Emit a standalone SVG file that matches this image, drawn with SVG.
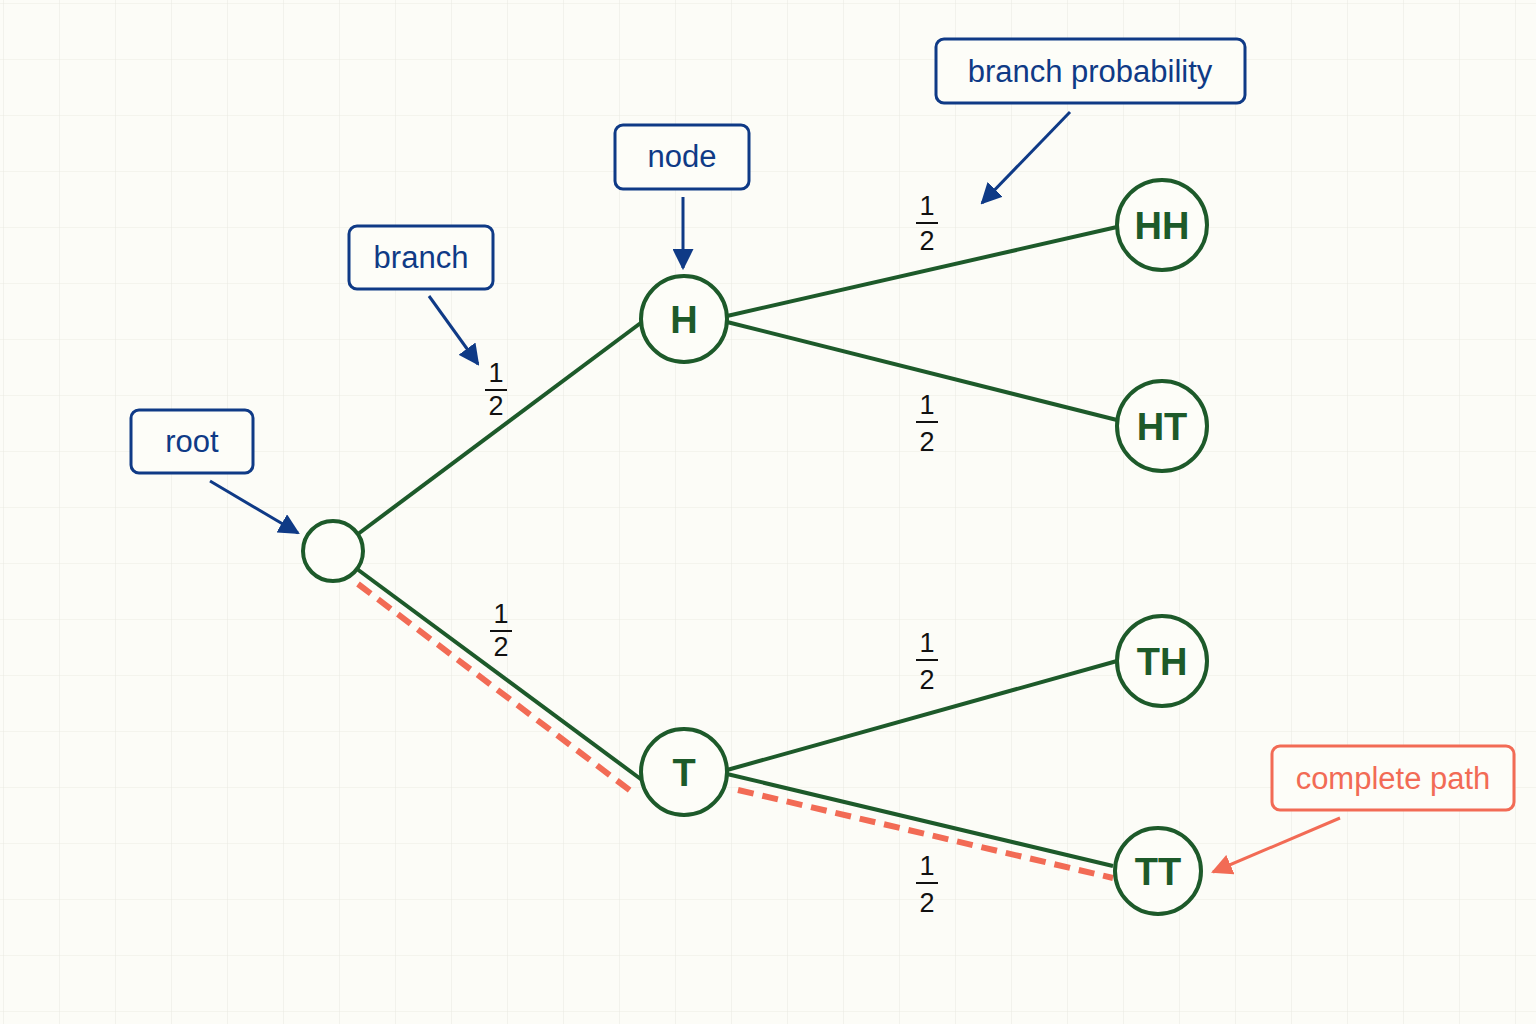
<svg xmlns="http://www.w3.org/2000/svg" width="1536" height="1024" viewBox="0 0 1536 1024">
<defs>
<pattern id="grid" width="56" height="56" patternUnits="userSpaceOnUse" x="4" y="4"><path d="M56 0V56H0" fill="none" stroke="#ecece4" stroke-width="1.2"/></pattern>
<marker id="ab" viewBox="0 0 10 10" refX="9" refY="5" markerWidth="7" markerHeight="7" orient="auto"><path d="M0 0L10 5L0 10z" fill="#0f3a86"/></marker>
<marker id="ar" viewBox="0 0 10 10" refX="9" refY="5" markerWidth="7" markerHeight="7" orient="auto"><path d="M0 0L10 5L0 10z" fill="#f26b55"/></marker>
</defs>
<style>
.n{fill:#fdfdf8;stroke:#1d5a2a;stroke-width:4}
.nt{font-family:"Liberation Sans",Arial,sans-serif;font-weight:bold;font-size:38px;fill:#1d5a2a;text-anchor:middle}
.e{stroke:#1d5a2a;stroke-width:4;fill:none}
.lb{fill:#fdfdf8;stroke:#0f3a86;stroke-width:3}
.lt{font-family:"Liberation Sans",Arial,sans-serif;font-size:31px;fill:#0f3a86;text-anchor:middle}
.a{stroke:#0f3a86;stroke-width:3;marker-end:url(#ab)}
.f{font-family:"Liberation Sans",Arial,sans-serif;font-size:27px;fill:#111;text-anchor:middle}
</style>
<rect width="1536" height="1024" fill="#fcfcf7"/>
<rect width="1536" height="1024" fill="url(#grid)"/>
<g id="connectors">
<path class="e" d="M358 534L642 322"/>
<path class="e" d="M357 569L642 780"/>
<path class="e" d="M727 316L1117 227"/>
<path class="e" d="M727 322L1117 420"/>
<path class="e" d="M727 770L1117 661"/>
<path class="e" d="M727 774L1113 866"/>
<path d="M358 584L636 795M738 790L1113 878" stroke="#f26b55" stroke-width="6" stroke-dasharray="16 9" fill="none"/>
<path class="a" d="M210 481L298 533"/>
<path class="a" d="M429 296L478 364"/>
<path class="a" d="M683 197L683 268"/>
<path class="a" d="M1070 112L982 203"/>
<path d="M1340 818L1213 872" stroke="#f26b55" stroke-width="3" marker-end="url(#ar)"/>
</g>
<g id="fractions">
<g><text class="f" x="496" y="382">1</text><path d="M485 390H507" stroke="#111" stroke-width="2"/><text class="f" x="496" y="415">2</text></g>
<g><text class="f" x="501" y="623">1</text><path d="M490 631H512" stroke="#111" stroke-width="2"/><text class="f" x="501" y="656">2</text></g>
<g><text class="f" x="927" y="215">1</text><path d="M916 223H938" stroke="#111" stroke-width="2"/><text class="f" x="927" y="250">2</text></g>
<g><text class="f" x="927" y="414">1</text><path d="M916 422H938" stroke="#111" stroke-width="2"/><text class="f" x="927" y="451">2</text></g>
<g><text class="f" x="927" y="652">1</text><path d="M916 660H938" stroke="#111" stroke-width="2"/><text class="f" x="927" y="689">2</text></g>
<g><text class="f" x="927" y="875">1</text><path d="M916 883H938" stroke="#111" stroke-width="2"/><text class="f" x="927" y="912">2</text></g>
</g>
<g id="root"><circle class="n" cx="333" cy="551" r="30"/></g>
<g id="H"><circle class="n" cx="684" cy="319" r="43"/><text class="nt" x="684" y="333">H</text></g>
<g id="T"><circle class="n" cx="684" cy="772" r="43"/><text class="nt" x="684" y="786">T</text></g>
<g id="HH"><circle class="n" cx="1162" cy="225" r="45"/><text class="nt" x="1162" y="239">HH</text></g>
<g id="HT"><circle class="n" cx="1162" cy="426" r="45"/><text class="nt" x="1162" y="440">HT</text></g>
<g id="TH"><circle class="n" cx="1162" cy="661" r="45"/><text class="nt" x="1162" y="675">TH</text></g>
<g id="TT"><circle class="n" cx="1158" cy="871" r="43"/><text class="nt" x="1158" y="885">TT</text></g>
<g id="lbl-root"><rect class="lb" x="131" y="410" width="122" height="63" rx="8"/><text class="lt" x="192" y="452">root</text></g>
<g id="lbl-branch"><rect class="lb" x="349" y="226" width="144" height="63" rx="8"/><text class="lt" x="421" y="268">branch</text></g>
<g id="lbl-node"><rect class="lb" x="615" y="125" width="134" height="64" rx="8"/><text class="lt" x="682" y="167">node</text></g>
<g id="lbl-bp"><rect class="lb" x="936" y="39" width="309" height="64" rx="8"/><text class="lt" x="1090" y="82">branch probability</text></g>
<g id="lbl-cp"><rect x="1272" y="746" width="242" height="64" rx="8" fill="#fdfdf8" stroke="#f26b55" stroke-width="3"/><text class="lt" x="1393" y="789" fill="#f26b55" style="fill:#f26b55">complete path</text></g>
</svg>
